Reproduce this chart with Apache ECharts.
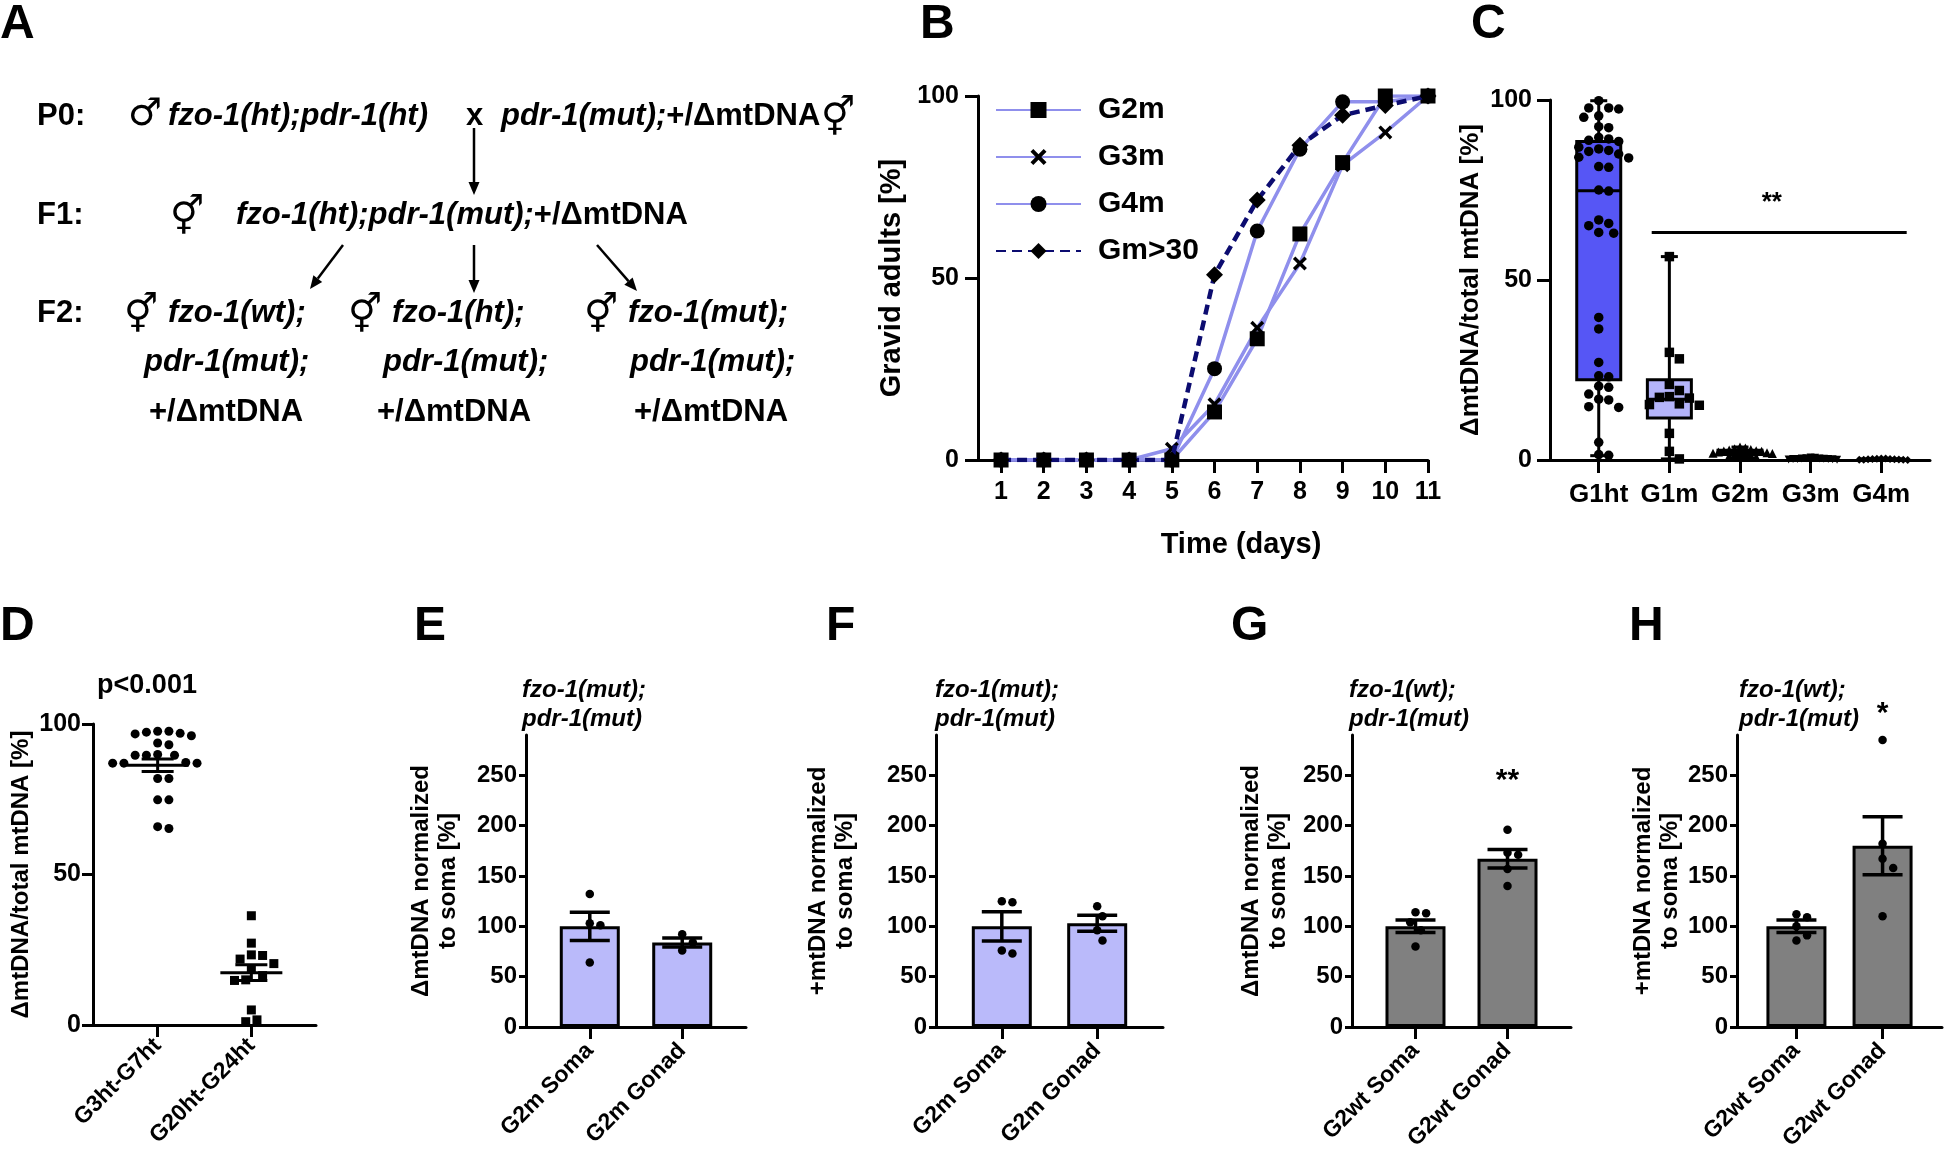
<!DOCTYPE html>
<html>
<head>
<meta charset="utf-8">
<title>Figure</title>
<script src="https://cdn.jsdelivr.net/npm/echarts@6.0.0/dist/echarts.min.js"></script>
<style>
html,body{margin:0;padding:0;background:#ffffff;}
#chart{width:1950px;height:1156px;}
</style>
</head>
<body>
<div id="chart"></div>
<script>
// ================= DATA =================
// Panel B: gravid adults over time
const daysB = [1,2,3,4,5,6,7,8,9,10,11];
const ticks100 = [0,50,100];
const gravidG2m  = [0,0,0,0,0,13.2,33.3,62.1,81.7,100,100];
const gravidG3m  = [0,0,0,0,3.1,15.3,36.3,54.0,81.0,90.0,100];
const gravidG4m  = [0,0,0,0,0,25.1,62.9,85.4,98.4,98.4,100];
const gravidGm30 = [0,0,0,0,0,50.9,71.4,86.5,94.7,97.4,100];
const namesB = ['G2m','G3m','G4m','Gm>30'];

// Panel C: box plots (min, Q1, median, Q3, max) + individual points
const catsC   = ['G1ht','G1m','G2m','G3m','G4m'];
const boxMinC = [1.2, 0.3, 0.6, 0.1, 0.05];
const boxQ1C  = [22.3, 11.7, 1.5, 0.2, 0.1];
const boxMedC = [74.8, 16.9, 2.1, 0.3, 0.2];
const boxQ3C  = [88.5, 22.3, 2.7, 0.45, 0.3];
const boxMaxC = [99.8, 56.5, 3.6, 0.7, 0.45];
const ptsC_G1ht = [99.8,97.8,97.8,97.5,95.6,95.2,92.6,92.3,89.6,89.2,88.8,88.5,86.9,86.4,86.0,85.7,85.0,84.1,83.9,81.5,81.3,75.0,74.7,66.7,65.7,65.1,63.2,63.0,39.6,36.4,27.1,23.4,23.1,20.5,20.2,18.3,16.9,16.7,14.8,14.6,4.9,1.5,1.3];
const ptsC_G1m  = [56.5,29.9,28.1,21.0,19.3,17.6,17.4,17.2,15.6,15.4,15.2,7.4,2.4,0.3];
const ptsC_G2m  = [3.6,3.3,3.1,2.9,2.8,2.6,2.5,2.4,2.2,2.1,2.0,1.9,1.8,1.6,1.5,1.3,1.1,0.8];
const ptsC_G3m  = [0.7,0.6,0.5,0.45,0.4,0.35,0.3,0.3,0.25,0.2,0.15,0.1];
const ptsC_G4m  = [0.45,0.4,0.35,0.3,0.25,0.2,0.2,0.15,0.1,0.1,0.05,0.02];
const sigC = {from:0.75, to:4.36, y:63.2, label:'**', labelY:71.5};

// Panel D
const catsD = ['G3ht-G7ht','G20ht-G24ht'];
const ptsD_early = [97.6,97.6,97.3,96.9,96.7,96.1,93.7,93.1,89.9,89.6,89.6,89.6,87.2,87.0,87.0,87.0,81.9,81.9,74.8,74.8,65.9,65.3];
const ptsD_late  = [36.3,27.2,23.3,23.1,21.9,20.4,18.6,16.4,15.0,14.8,5.0,1.7,1.1];
const meanD = [86.3, 17.4];
const semD  = [2.1, 2.6];
const pLabelD = 'p<0.001';

// Panels E-H (bars = mean, error = SEM)
const ticks290 = [0,50,100,150,200,250];
const catsEF = ['G2m Soma','G2m Gonad'];
const catsGH = ['G2wt Soma','G2wt Gonad'];
const meanE = [100, 84];  const semE = [14, 4.5];
const somaE = [132,103,101,64]; const gonadE = [92,84,76];
const meanF = [100, 103]; const semF = [14.5, 8];
const somaF = [125,124,76,73];  const gonadF = [120,110,96,86];
const meanG = [100, 167]; const semG = [6.2, 9.2];
const somaG = [114,113,104,96,80]; const gonadG = [196,173,171,157,140];
const meanH = [100, 180]; const semH = [6.2, 28.8];
const somaH = [112,109,100,91,86]; const gonadH = [285,182,167,158,110];
const starG = {label:'**', y:245};
const starH = {label:'*', y:311};

// ================= LAYOUT / STYLE =================
const FONT = "'Liberation Sans', Arial, Helvetica, sans-serif";
const SYMF = "'DejaVu Sans', sans-serif";
const BLACK = '#000000';
const LINE_LIGHT = '#8f8fec';
const LINE_DARK = '#0c0c70';
const X_PATH = 'path://M0,3.5 L3.5,0 L10,6.5 L16.5,0 L20,3.5 L13.5,10 L20,16.5 L16.5,20 L10,13.5 L3.5,20 L0,16.5 L6.5,10 Z';

const grids = [
  {left:978,  top:96,  width:450, height:364},  // B
  {left:1550, top:100, width:380, height:360},  // C
  {left:93,   top:724, width:223, height:301},  // D
  {left:526,  top:735, width:220, height:292},  // E
  {left:936,  top:735, width:227, height:292},  // F
  {left:1352, top:735, width:219, height:292},  // G
  {left:1737, top:735, width:205, height:292}   // H
];
const PAD = 0.69;

function lbl(fs){ return {fontSize:fs, fontWeight:'bold', fontFamily:FONT, color:BLACK}; }

function yAxisDef(gi, max, ticks, fs, margin, tickLen, name, nameGap, nameFs, lineH){
  return {
    type:'value', gridIndex:gi, min:0, max:max,
    axisLine:{show:true, onZero:false, lineStyle:{color:BLACK, width:3}},
    axisTick:{show:true, length:tickLen, customValues:ticks, lineStyle:{color:BLACK, width:3}},
    axisLabel:Object.assign({customValues:ticks, margin:margin}, lbl(fs)),
    splitLine:{show:false},
    name:name, nameLocation:'middle', nameGap:nameGap, nameRotate:90,
    nameTextStyle:Object.assign({lineHeight:lineH}, lbl(nameFs))
  };
}
function catXAxis(gi, cats, fs, rotate, margin, tickLen){
  const ticks = cats.map((c,i)=>i);
  return {
    type:'value', gridIndex:gi, min:-PAD, max:cats.length-1+PAD,
    axisLine:{show:true, onZero:false, lineStyle:{color:BLACK, width:3}},
    axisTick:{show:true, length:tickLen, customValues:ticks, lineStyle:{color:BLACK, width:3}},
    axisLabel:Object.assign({customValues:ticks, margin:margin, rotate:rotate,
      formatter:(v)=>cats[Math.round(v)]}, lbl(fs)),
    splitLine:{show:false}
  };
}

// deterministic beeswarm layout (pixel-space collision avoidance)
function swarm(vals, cat, gi, xr, yr, diam, sepFac){
  const g = grids[gi];
  const ppx = g.width/(xr[1]-xr[0]), ppy = g.height/(yr[1]-yr[0]);
  const order = vals.map((v,i)=>i).sort((a,b)=>vals[b]-vals[a]);
  const placed = []; const out = new Array(vals.length);
  const sep = diam*sepFac, step = sep*0.5;
  order.forEach(i=>{
    const y = vals[i]*ppy; let x = 0;
    for (let k=0;k<400;k++){
      const c = k===0 ? 0 : (k%2===1 ? 1 : -1)*Math.ceil(k/2)*step;
      if (placed.every(p=>Math.hypot(p[0]-c, p[1]-y) >= sep)) { x = c; break; }
    }
    placed.push([x,y]);
    out[i] = [cat + x/ppx, vals[i]];
  });
  return out;
}

function errRender(capW, lw, meanW){
  return function(params, api){
    const x = api.value(0), m = api.value(1), s = api.value(2);
    const pt = api.coord([x, m+s]), pb = api.coord([x, m-s]), pm = api.coord([x, m]);
    const st = {stroke:BLACK, lineWidth:lw};
    const ch = [
      {type:'line', shape:{x1:pt[0], y1:pt[1], x2:pb[0], y2:pb[1]}, style:st},
      {type:'line', shape:{x1:pt[0]-capW/2, y1:pt[1], x2:pt[0]+capW/2, y2:pt[1]}, style:st},
      {type:'line', shape:{x1:pb[0]-capW/2, y1:pb[1], x2:pb[0]+capW/2, y2:pb[1]}, style:st}
    ];
    if (meanW) ch.push({type:'line', shape:{x1:pm[0]-meanW/2, y1:pm[1], x2:pm[0]+meanW/2, y2:pm[1]}, style:st});
    return {type:'group', children:ch};
  };
}
function textRender(txt, fs){
  return function(params, api){
    const p = api.coord([api.value(0), api.value(1)]);
    return {type:'text', x:p[0], y:p[1], style:{text:txt, fontSize:fs, fontWeight:'bold', fontFamily:FONT,
      fill:BLACK, textAlign:'center', textVerticalAlign:'middle'}};
  };
}

// ================= AXES =================
const xAxes = [
  { type:'value', gridIndex:0, min:0.46, max:11,
    axisLine:{show:true, onZero:false, lineStyle:{color:BLACK, width:3}},
    axisTick:{show:true, length:13, customValues:daysB, lineStyle:{color:BLACK, width:3}},
    axisLabel:Object.assign({customValues:daysB, margin:20}, lbl(25)),
    splitLine:{show:false},
    name:'Time (days)', nameLocation:'middle', nameGap:68,
    nameTextStyle:Object.assign({lineHeight:34, padding:[0,0,0,76]}, lbl(29)) },
  catXAxis(1, catsC, 26, 0, 22, 13),
  catXAxis(2, catsD, 23, 45, 17, 12),
  catXAxis(3, catsEF, 23, 45, 20, 12),
  catXAxis(4, catsEF, 23, 45, 20, 12),
  catXAxis(5, catsGH, 23, 45, 20, 12),
  catXAxis(6, catsGH, 23, 45, 20, 12)
];
const yAxes = [
  yAxisDef(0, 100, ticks100, 25, 19, 13, 'Gravid adults [%]', 69, 29, 34),
  yAxisDef(1, 100, ticks100, 25, 18, 13, 'ΔmtDNA/total mtDNA [%]', 64, 26, 30),
  yAxisDef(2, 100, ticks100, 25, 12, 11, 'ΔmtDNA/total mtDNA [%]', 56, 24, 28),
  yAxisDef(3, 290, ticks290, 24, 9, 7, 'ΔmtDNA normalized\nto soma [%]', 64, 24, 27),
  yAxisDef(4, 290, ticks290, 24, 9, 7, '+mtDNA normalized\nto soma [%]', 77, 24, 27),
  yAxisDef(5, 290, ticks290, 24, 9, 7, 'ΔmtDNA normalized\nto soma [%]', 60, 24, 27),
  yAxisDef(6, 290, ticks290, 24, 9, 7, '+mtDNA normalized\nto soma [%]', 50, 24, 27)
];

// ================= SERIES =================
const series = [];
const PT = {color:BLACK, opacity:1};
// ---- B ----
const gravidAll = [gravidG2m, gravidG3m, gravidG4m, gravidGm30];
const symB = ['rect', X_PATH, 'circle', 'diamond'];
const symSizeB = [15, 14, 15, 17];
gravidAll.forEach((arr, k)=>{
  series.push({
    type:'line', name:namesB[k], xAxisIndex:0, yAxisIndex:0,
    data: daysB.map((d,i)=>[d, arr[i]]),
    symbol:symB[k], symbolSize:symSizeB[k], showAllSymbol:true,
    itemStyle:PT,
    lineStyle: k===3 ? {color:LINE_DARK, width:4.5, type:[10,6]} : {color:LINE_LIGHT, width:3.5},
    z: k===3 ? 4 : 3, animation:false
  });
});

// ---- C ----
const boxFillC = ['#5656f5','#b4b4fa','#b4b4fa','#b4b4fa','#b4b4fa'];
series.push({
  type:'custom', xAxisIndex:1, yAxisIndex:1, z:2,
  data: catsC.map((c,i)=>[i, boxMinC[i], boxQ1C[i], boxMedC[i], boxQ3C[i], boxMaxC[i]]),
  encode:{x:0, y:[1,2,3,4,5]},
  renderItem:function(params, api){
    const x = api.value(0);
    const pLo = api.coord([x, api.value(1)]), pQ1 = api.coord([x, api.value(2)]),
          pMd = api.coord([x, api.value(3)]), pQ3 = api.coord([x, api.value(4)]),
          pHi = api.coord([x, api.value(5)]);
    const bw = 44, cap = 17, st = {stroke:BLACK, lineWidth:3};
    return {type:'group', children:[
      {type:'line', shape:{x1:pLo[0], y1:pLo[1], x2:pHi[0], y2:pHi[1]}, style:st},
      {type:'line', shape:{x1:pLo[0]-cap/2, y1:pLo[1], x2:pLo[0]+cap/2, y2:pLo[1]}, style:st},
      {type:'line', shape:{x1:pHi[0]-cap/2, y1:pHi[1], x2:pHi[0]+cap/2, y2:pHi[1]}, style:st},
      {type:'rect', shape:{x:pQ3[0]-bw/2, y:pQ3[1], width:bw, height:Math.max(pQ1[1]-pQ3[1],1)},
        style:{fill:boxFillC[params.dataIndex], stroke:BLACK, lineWidth:3}},
      {type:'line', shape:{x1:pMd[0]-bw/2, y1:pMd[1], x2:pMd[0]+bw/2, y2:pMd[1]}, style:st}
    ]};
  }
});
const xrC = [-PAD, 4+PAD], yr100 = [0,100];
const ptsCAll = [ptsC_G1ht, ptsC_G1m, ptsC_G2m, ptsC_G3m, ptsC_G4m];
const symC = ['circle','rect','triangle','triangle','diamond'];
const symRotC = [0,0,0,180,0];
const symSizeC = [9.5, 9.5, 9, 8, 8];
const sepC = [1.05, 1.05, 0.6, 0.55, 0.55];
ptsCAll.forEach((arr,k)=>{
  series.push({
    type:'scatter', xAxisIndex:1, yAxisIndex:1, z:3,
    data: swarm(arr, k, 1, xrC, yr100, symSizeC[k], sepC[k]),
    symbol:symC[k], symbolRotate:symRotC[k], symbolSize:symSizeC[k],
    itemStyle:PT
  });
});
series.push({
  type:'custom', xAxisIndex:1, yAxisIndex:1, z:4,
  data:[[sigC.from, sigC.y, sigC.to]],
  encode:{x:0, y:1},
  renderItem:function(params, api){
    const a = api.coord([api.value(0), api.value(1)]), b = api.coord([api.value(2), api.value(1)]);
    return {type:'line', shape:{x1:a[0], y1:a[1], x2:b[0], y2:b[1]}, style:{stroke:BLACK, lineWidth:3}};
  }
});
series.push({
  type:'custom', xAxisIndex:1, yAxisIndex:1, z:4,
  data:[[2.45, sigC.labelY]], encode:{x:0, y:1},
  renderItem:textRender(sigC.label, 26)
});

// ---- D ----
const xrD = [-PAD, 1+PAD];
series.push({type:'scatter', xAxisIndex:2, yAxisIndex:2, z:3,
  data:swarm(ptsD_early, 0, 2, xrD, yr100, 9, 1.25), symbol:'circle', symbolSize:9, itemStyle:PT});
series.push({type:'scatter', xAxisIndex:2, yAxisIndex:2, z:3,
  data:swarm(ptsD_late, 1, 2, xrD, yr100, 9, 1.25), symbol:'rect', symbolSize:9, itemStyle:PT});
series.push({type:'custom', xAxisIndex:2, yAxisIndex:2, z:4,
  data:meanD.map((m,i)=>[i, m, semD[i]]), encode:{x:0, y:1},
  renderItem:errRender(32, 3, 62)});

// ---- E-H ----
function barPanel(gi, means, sems, soma, gonad, fill, star){
  const xr = [-PAD, 1+PAD], yr = [0,290];
  series.push({type:'bar', xAxisIndex:gi, yAxisIndex:gi, z:2, barWidth:60,
    data:means.map((m,i)=>[i,m]),
    itemStyle:{color:fill, borderColor:BLACK, borderWidth:3, opacity:1}});
  series.push({type:'scatter', xAxisIndex:gi, yAxisIndex:gi, z:3,
    data:swarm(soma, 0, gi, xr, yr, 8.5, 1.25).concat(swarm(gonad, 1, gi, xr, yr, 8.5, 1.25)),
    symbol:'circle', symbolSize:8.5, itemStyle:PT});
  series.push({type:'custom', xAxisIndex:gi, yAxisIndex:gi, z:4,
    data:means.map((m,i)=>[i, m, sems[i]]), encode:{x:0, y:1},
    renderItem:errRender(40, 3.5, 0)});
  if (star){
    series.push({type:'custom', xAxisIndex:gi, yAxisIndex:gi, z:4,
      data:[[1, star.y]], encode:{x:0, y:1}, renderItem:textRender(star.label, 30)});
  }
}
barPanel(3, meanE, semE, somaE, gonadE, '#babafa', null);
barPanel(4, meanF, semF, somaF, gonadF, '#babafa', null);
barPanel(5, meanG, semG, somaG, gonadG, '#808080', starG);
barPanel(6, meanH, semH, somaH, gonadH, '#808080', starH);

// ================= GRAPHIC (panel letters, scheme A, titles) =================
function txt(t, x, y, fs, opts){
  return {type:'text', silent:true, style:Object.assign({text:t, x:x, y:y, fontSize:fs, fontWeight:'bold',
    fontFamily:FONT, fill:BLACK, textAlign:'left', textVerticalAlign:'middle'}, opts||{})};
}
function symTxt(t, x, y){ return txt(t, x, y, 38, {fontFamily:SYMF}); }
function arrow(x1,y1,x2,y2){
  const ang = Math.atan2(y2-y1, x2-x1), L = 13, W = 5.5;
  const bx = x2 - L*Math.cos(ang), by = y2 - L*Math.sin(ang);
  const px = -Math.sin(ang)*W, py = Math.cos(ang)*W;
  return [
    {type:'line', silent:true, shape:{x1:x1, y1:y1, x2:bx, y2:by}, style:{stroke:BLACK, lineWidth:2.5}},
    {type:'polygon', silent:true, shape:{points:[[x2,y2],[bx+px,by+py],[bx-px,by-py]]}, style:{fill:BLACK}}
  ];
}
const IT = {fontStyle:'italic', fontWeight:'bold', fontSize:31, fontFamily:FONT, fill:BLACK};
const NT = {fontStyle:'normal', fontWeight:'bold', fontSize:31, fontFamily:FONT, fill:BLACK};
const richA = {i:IT, n:NT};

const graphics = [
  txt('A', 0, 25, 48), txt('B', 920, 25, 48), txt('C', 1471, 25, 48),
  txt('D', 0, 627, 48), txt('E', 414, 627, 48), txt('F', 826, 627, 48),
  txt('G', 1231, 627, 48), txt('H', 1629, 627, 48),
  // scheme A
  txt('P0:', 37, 116, 31), txt('F1:', 37, 215, 31), txt('F2:', 37, 313, 31),
  symTxt('♂', 128, 115),
  txt('fzo-1(ht);pdr-1(ht)', 168, 116, 31, {fontStyle:'italic'}),
  txt('x', 466, 116, 31),
  txt('{i|pdr-1(mut);}{n|+/ΔmtDNA}', 501, 116, 31, {rich:richA}),
  symTxt('⚥', 821, 120),
  symTxt('⚥', 170, 219),
  txt('{i|fzo-1(ht);pdr-1(mut);}{n|+/ΔmtDNA}', 236, 215, 31, {rich:richA}),
  symTxt('⚥', 124, 317), txt('fzo-1(wt);', 168, 313, 31, {fontStyle:'italic'}),
  symTxt('⚥', 348, 317), txt('fzo-1(ht);', 392, 313, 31, {fontStyle:'italic'}),
  symTxt('⚥', 584, 317), txt('fzo-1(mut);', 628, 313, 31, {fontStyle:'italic'}),
  txt('pdr-1(mut);', 144, 362, 31, {fontStyle:'italic'}),
  txt('pdr-1(mut);', 383, 362, 31, {fontStyle:'italic'}),
  txt('pdr-1(mut);', 630, 362, 31, {fontStyle:'italic'}),
  txt('+/ΔmtDNA', 149, 412, 31), txt('+/ΔmtDNA', 377, 412, 31), txt('+/ΔmtDNA', 634, 412, 31),
  // D label
  txt(pLabelD, 147, 686, 27, {textAlign:'center'}),
  // E-H genotype titles
  txt('fzo-1(mut);\npdr-1(mut)', 522, 705, 24, {fontStyle:'italic', lineHeight:29}),
  txt('fzo-1(mut);\npdr-1(mut)', 935, 705, 24, {fontStyle:'italic', lineHeight:29}),
  txt('fzo-1(wt);\npdr-1(mut)', 1349, 705, 24, {fontStyle:'italic', lineHeight:29}),
  txt('fzo-1(wt);\npdr-1(mut)', 1739, 705, 24, {fontStyle:'italic', lineHeight:29})
].concat(arrow(474,128,474,195), arrow(343,245,310,289), arrow(474,245,474,293), arrow(597,245,637,291));

// ================= CHART =================
const chart = echarts.init(document.getElementById('chart'), null, {renderer:'canvas', width:1950, height:1156});
chart.setOption({
  backgroundColor:'#ffffff',
  animation:false,
  textStyle:{fontFamily:FONT},
  grid: grids.map(g=>Object.assign({containLabel:false, outerBoundsMode:'none'}, g)),
  xAxis: xAxes,
  yAxis: yAxes,
  legend:{
    data:namesB, orient:'vertical', left:990, top:90, itemWidth:85, itemHeight:20, itemGap:17,
    selectedMode:false,
    textStyle:Object.assign({padding:[0,0,0,12]}, lbl(30))
  },
  graphic: graphics,
  series: series
});
</script>
</body>
</html>
